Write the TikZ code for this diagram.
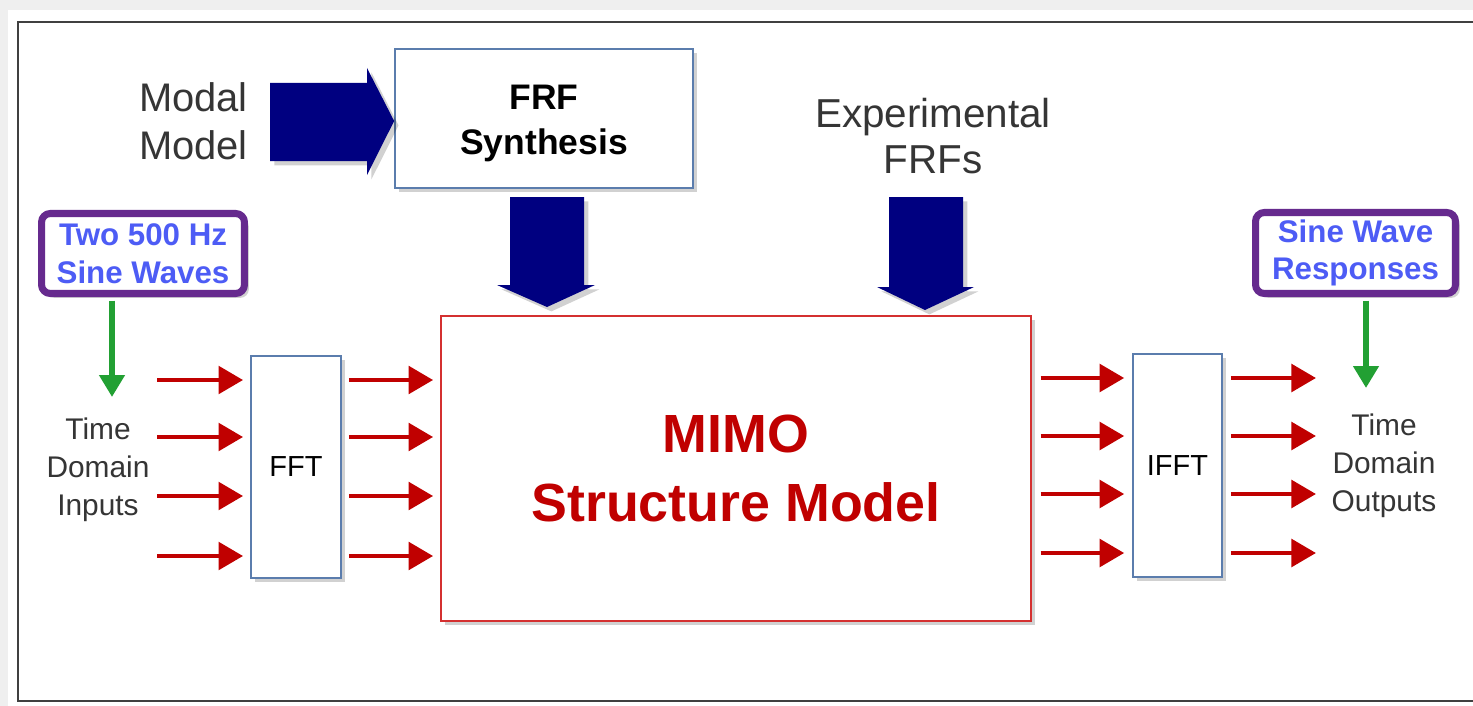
\documentclass[tikz,border=0pt]{standalone}
\usepackage{fontspec}
\setmainfont{Liberation Sans}
\usetikzlibrary{arrows.meta,shadows}
\definecolor{navyblk}{HTML}{000080}
\definecolor{boxblue}{HTML}{5B7DAD}
\definecolor{arrred}{HTML}{C00000}
\definecolor{mimotxt}{HTML}{C00000}
\definecolor{mimoborder}{HTML}{D43030}
\definecolor{purp}{HTML}{662A8E}
\definecolor{txtblue}{HTML}{4D5CF5}
\definecolor{grn}{HTML}{22A033}
\definecolor{dtext}{HTML}{353535}
\definecolor{bggray}{HTML}{EFEFEF}
\definecolor{framecol}{HTML}{404040}
\begin{document}
\begin{tikzpicture}[x=0.02cm,y=-0.02cm,
  softshadow/.style={drop shadow={shadow xshift=2.5pt,shadow yshift=-2.5pt,opacity=0.18,fill=black}},
  bbox/.style={draw=boxblue,line width=1pt,fill=white,softshadow,inner sep=0pt},
  notebox/.style={draw=purp,line width=4pt,rounded corners=5pt,fill=white,softshadow,inner sep=0pt,
    text=txtblue,align=center,font=\bfseries\fontsize{17.8}{21.5}\selectfont},
  graytxt/.style={text=dtext,align=center,inner sep=0pt},
  redarr/.style={draw=arrred,line width=2.8pt,-{Triangle[length=14pt,width=15.5pt]}},
  grnarr/.style={draw=grn,line width=3.4pt,-{Triangle[length=12.5pt,width=14pt]}},
  bigarr/.style={fill=navyblk,softshadow}]
\useasboundingbox (0,0) rectangle (1473,706);
\fill[bggray] (0,0) rectangle (1473,706);
\fill[white] (8,10) rectangle (1473,706);
\draw[framecol,line width=1.4pt] (1480,22) -- (18,22) -- (18,701) -- (1480,701);

% main boxes
\node[bbox,minimum width=5.96cm,minimum height=2.78cm] (frf) at (544,118.5) {};
\node[align=center,inner sep=0pt,font=\bfseries\fontsize{20.2}{25.5}\selectfont] (frftxt)
  at ([yshift=-2.8pt]frf.center) {FRF\\Synthesis};
\node[draw=mimoborder,line width=1pt,fill=white,softshadow,inner sep=0pt,
  minimum width=11.8cm,minimum height=6.1cm,align=center,text=mimotxt,
  font=\bfseries\fontsize{30.6}{39.7}\selectfont] (mimo) at (736,468.5) {MIMO\\Structure Model};
\node[bbox,minimum width=1.8cm,minimum height=4.44cm,
  font=\fontsize{16.5}{20}\selectfont] (fft) at (296,467) {FFT};
\node[bbox,minimum width=1.78cm,minimum height=4.46cm,
  font=\fontsize{16.5}{20}\selectfont] (ifft) at (1177.5,465.5) {IFFT};

% note boxes
\node[notebox,minimum width=4.06cm,minimum height=1.6cm] (sin1) at (143,253.5) {Two 500 Hz\\Sine Waves};
\node[notebox,minimum width=4.0cm,minimum height=1.62cm] (sin2) at (1355.5,253) {Sine Wave\\Responses};

% gray labels
\node[graytxt,anchor=east,align=right,font=\fontsize{22.7}{27.2}\selectfont] (modal) at (248,121) {Modal\\Model};
\node[graytxt,font=\fontsize{23}{26.6}\selectfont] (exper) at (933,136) {Experimental\\FRFs};
\node[graytxt,font=\fontsize{17}{21.5}\selectfont] (tin) at (98,470) {Time\\Domain\\Inputs};
\node[graytxt,font=\fontsize{17}{21.5}\selectfont] (tout) at (1384,466) {Time\\Domain\\Outputs};

% block arrows
\fill[bigarr] (270,83) -- (367,83) -- (367,68) -- (frf.west |- 0,121) -- (367,175) -- (367,161) -- (270,161) -- cycle;
\fill[bigarr] (510,197) -- (584,197) -- (584,285) -- (595,285) -- (547,307) -- (497,285) -- (510,285) -- cycle;
\fill[bigarr] (889,197) -- (963,197) -- (963,287) -- (974,287) -- (925,310) -- (877,287) -- (889,287) -- cycle;

% green arrows
\coordinate (g1) at (112,397);
\coordinate (g2) at (1366,388);
\draw[grnarr,shorten <=2pt] (sin1.south -| g1) -- (g1);
\draw[grnarr,shorten <=2pt] (sin2.south -| g2) -- (g2);

% red signal arrows
\foreach \y [count=\i] in {380,437,496,556} {
  \coordinate (a\i) at (157,\y);
  \draw[redarr,shorten >=4pt] (a\i) -- (a\i -| fft.west);
  \draw[redarr,shorten <=4pt,shorten >=4pt] (a\i -| fft.east) -- (a\i -| mimo.west);
}
\foreach \y [count=\i] in {378,436,494,553} {
  \coordinate (b\i) at (1316,\y);
  \draw[redarr,shorten <=5pt,shorten >=4.5pt] (b\i -| mimo.east) -- (b\i -| ifft.west);
  \draw[redarr,shorten <=4.5pt] (b\i -| ifft.east) -- (b\i);
}
\end{tikzpicture}
\end{document}
